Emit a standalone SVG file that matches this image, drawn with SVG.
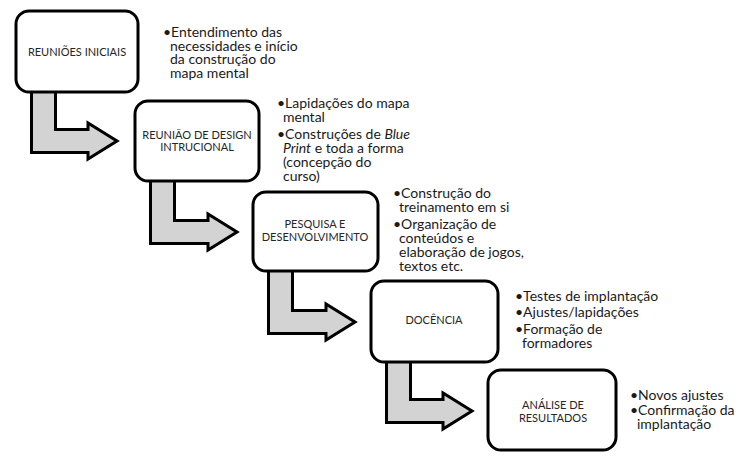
<svg xmlns="http://www.w3.org/2000/svg" width="745" height="459" viewBox="0 0 745 459">
<style>
.box{fill:#fff;stroke:#000;stroke-width:3}
.arr{fill:#d3d3d3;stroke:#000;stroke-width:3;stroke-linejoin:miter}
.lbl{font-family:Lato,"Liberation Sans",sans-serif;font-size:11px;fill:#262626;text-anchor:middle}
.bt{font-family:Lato,"Liberation Sans",sans-serif;font-size:14px;fill:#1a1a1a}
</style>
<rect width="745" height="459" fill="#fff"/>
<g id="connectors">
<path class="arr" d="M31.5,88 H55.5 V129.5 H88 V123 L117,141 L88,159 V152.5 H31.5 Z"/>
<path class="arr" d="M150.5,178 H174.5 V220.5 H208 V214 L237,232 L208,250 V243.5 H150.5 Z"/>
<path class="arr" d="M268.5,268 H292.5 V310.5 H326 V304 L355,322 L326,340 V333.5 H268.5 Z"/>
<path class="arr" d="M386.5,359 H410.5 V399.5 H443 V393 L472,411 L443,429 V422.5 H386.5 Z"/>
</g>
<g id="node1">
<rect class="box" x="16" y="11" width="122" height="81" rx="13"/>
<text class="lbl" x="77" y="56">REUNIÕES INICIAIS</text>
<text class="bt"><tspan x="163" y="37">•Entendimento das</tspan><tspan x="170" y="51">necessidades e início</tspan><tspan x="170" y="64">da construção do</tspan><tspan x="170" y="78">mapa mental</tspan></text>
</g>
<g id="node2">
<rect class="box" x="135" y="101" width="124" height="80" rx="13"/>
<text class="lbl"><tspan x="197" y="139">REUNIÃO DE DESIGN</tspan><tspan x="197" y="151">INTRUCIONAL</tspan></text>
<text class="bt"><tspan x="277" y="108">•Lapidações do mapa</tspan><tspan x="283" y="122">mental</tspan></text>
<text class="bt"><tspan x="277" y="139">•Construções de </tspan><tspan font-style="italic">Blue</tspan><tspan x="283" y="153" font-style="italic">Print</tspan><tspan> e toda a forma</tspan><tspan x="283" y="167">(concepção do</tspan><tspan x="283" y="181">curso)</tspan></text>
</g>
<g id="node3">
<rect class="box" x="253" y="192" width="125" height="79" rx="13"/>
<text class="lbl"><tspan x="315" y="228">PESQUISA E</tspan><tspan x="315" y="241">DESENVOLVIMENTO</tspan></text>
<text class="bt"><tspan x="393" y="198">•Construção do</tspan><tspan x="399" y="212">treinamento em si</tspan></text>
<text class="bt"><tspan x="393" y="229">•Organização de</tspan><tspan x="399" y="243">conteúdos e</tspan><tspan x="399" y="257">elaboração de jogos,</tspan><tspan x="399" y="271">textos etc.</tspan></text>
</g>
<g id="node4">
<rect class="box" x="371" y="281" width="127" height="81" rx="13"/>
<text class="lbl" x="434" y="324">DOCÊNCIA</text>
<text class="bt" x="515" y="301">•Testes de implantação</text>
<text class="bt" x="515" y="317">•Ajustes/lapidações</text>
<text class="bt"><tspan x="515" y="334">•Formação de</tspan><tspan x="522" y="348">formadores</tspan></text>
</g>
<g id="node5">
<rect class="box" x="488" y="370" width="128" height="80" rx="13"/>
<text class="lbl"><tspan x="553" y="409">ANÁLISE DE</tspan><tspan x="553" y="422">RESULTADOS</tspan></text>
<text class="bt" x="630" y="400">•Novos ajustes</text>
<text class="bt"><tspan x="630" y="415">•Confirmação da</tspan><tspan x="637" y="429">implantação</tspan></text>
</g>
</svg>
